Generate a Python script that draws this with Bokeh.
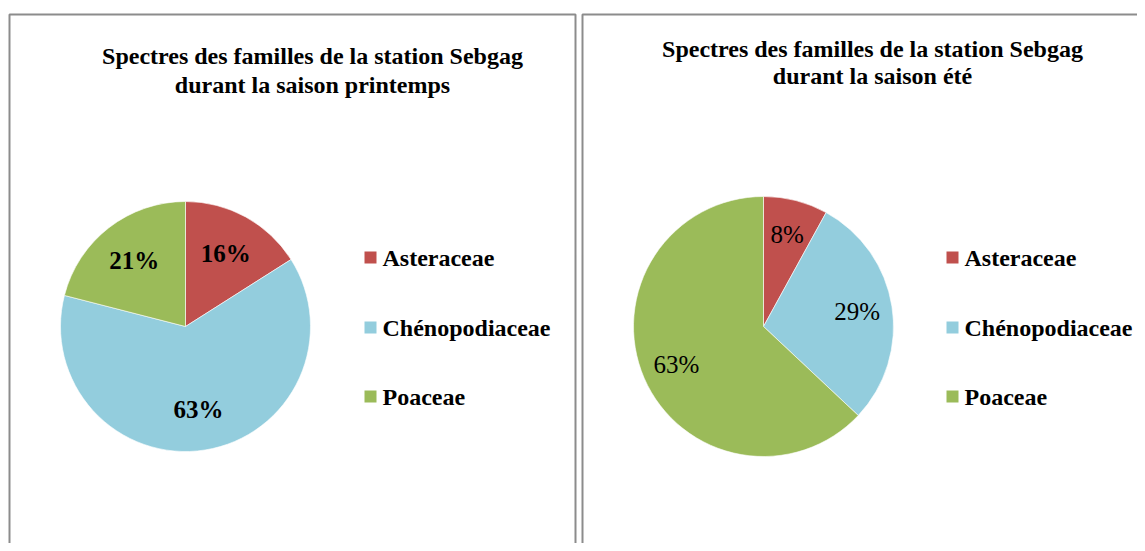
import math
from bokeh.plotting import figure
from bokeh.models import Range1d, ColumnDataSource
from bokeh.core.properties import value
from bokeh.embed import file_html
from bokeh.resources import INLINE

# ---------------- data ----------------
families = ["Asteraceae", "Chénopodiaceae", "Poaceae"]
colors = ["#C0504D", "#93CDDD", "#9BBB59"]
printemps = [16, 63, 21]
ete = [8, 29, 63]
title_printemps = ["Spectres des familles de la station Sebgag", "durant la saison printemps"]
title_ete = ["Spectres des familles de la station Sebgag", "durant la saison été"]

FONT = value("'Liberation Serif', 'Times New Roman', serif")

# ---------------- layout ----------------
W, H = 1137, 543
p = figure(width=W, height=H, x_range=Range1d(0, W), y_range=Range1d(-H, 0),
           output_backend="svg", toolbar_location=None, min_border=0,
           outline_line_color=None, background_fill_color="white",
           border_fill_color="white")
p.axis.visible = False
p.grid.visible = False

BORDER = "#8c8c8c"
# panel frames
p.line(x=[9, 9, 575, 575], y=[-H - 5, -14, -14, -H - 5], line_color=BORDER, line_width=2)
p.line(x=[582, 582, W + 5], y=[-H - 5, -14, -14], line_color=BORDER, line_width=2)

panels = [
    dict(vals=printemps, title=title_printemps, cx=185, cy=326, R=125, lab_r=0.67,
         lab_bold=True, tx=312, ty=[55, 84], lx=364, ltx=382),
    dict(vals=ete, title=title_ete, cx=763, cy=326, R=130, lab_r=0.73,
         lab_bold=False, tx=872, ty=[48, 75], lx=946, ltx=964),
]
legend_rows = [257, 327, 396]

for pn in panels:
    vals = pn["vals"]
    total = float(sum(vals))
    starts, ends, lx, ly, labels = [], [], [], [], []
    cum = 0.0
    for v in vals:
        a0 = math.pi / 2 - 2 * math.pi * cum / total
        cum += v
        a1 = math.pi / 2 - 2 * math.pi * cum / total
        starts.append(a0)
        ends.append(a1)
        mid = (a0 + a1) / 2
        r = pn["R"] * pn["lab_r"]
        lx.append(pn["cx"] + r * math.cos(mid))
        ly.append(-pn["cy"] + r * math.sin(mid))
        labels.append(f"{v}%")
    src = ColumnDataSource(dict(start=starts, end=ends, color=colors,
                                lx=lx, ly=ly, label=labels))
    p.wedge(x=pn["cx"], y=-pn["cy"], radius=pn["R"], radius_units="screen",
            start_angle="start", end_angle="end", direction="clock",
            fill_color="color", line_color="white", line_width=0.6, source=src)
    p.text(x="lx", y="ly", text="label", source=src, text_font=FONT,
           text_font_size="25px",
           text_font_style="bold" if pn["lab_bold"] else "normal",
           text_align="center", text_baseline="middle", text_color="black")
    # title
    p.text(x=[pn["tx"]] * 2, y=[-t for t in pn["ty"]], text=pn["title"],
           text_font=FONT, text_font_size="24px", text_font_style="bold",
           text_align="center", text_baseline="middle", text_color="black")
    # legend
    p.rect(x=[pn["lx"] + 6] * 3, y=[-r for r in legend_rows], width=12, height=12,
           width_units="screen", height_units="screen",
           fill_color=colors, line_color=None)
    p.text(x=[pn["ltx"]] * 3, y=[-r for r in legend_rows], text=families,
           text_font=FONT, text_font_size="24px", text_font_style="bold",
           text_align="left", text_baseline="middle", text_color="black")

open("out.html", "w").write(file_html(p, INLINE))
